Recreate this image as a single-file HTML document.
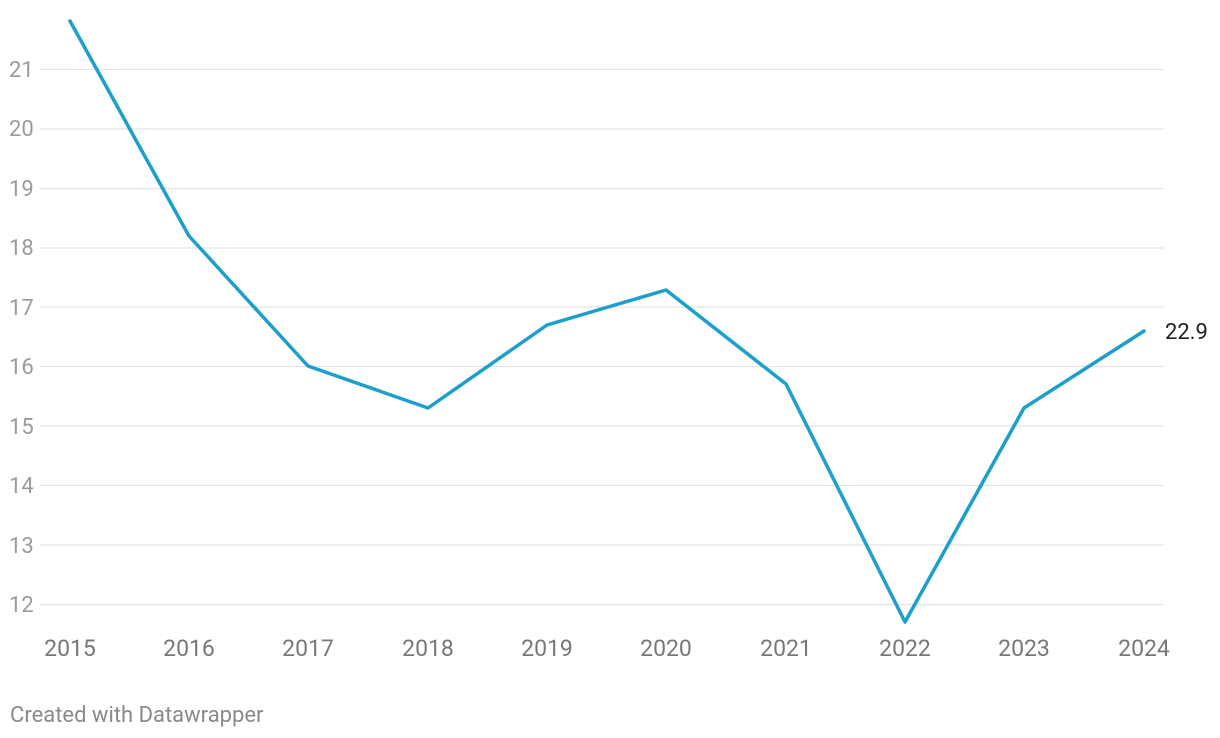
<!DOCTYPE html>
<html><head><meta charset="utf-8"><style>
html,body{margin:0;padding:0;background:#fff;}
svg{display:block;font-family:"Roboto","Liberation Sans",sans-serif;}
</style></head><body>
<svg width="1220" height="738" viewBox="0 0 1220 738">
<g stroke="#e3e3e3" stroke-width="1.3">
<line x1="40" x2="1164" y1="69.5" y2="69.5"/>
<line x1="40" x2="1164" y1="129" y2="129"/>
<line x1="40" x2="1164" y1="188.5" y2="188.5"/>
<line x1="40" x2="1164" y1="248" y2="248"/>
<line x1="40" x2="1164" y1="307" y2="307"/>
<line x1="40" x2="1164" y1="366.5" y2="366.5"/>
<line x1="40" x2="1164" y1="426" y2="426"/>
<line x1="40" x2="1164" y1="485.5" y2="485.5"/>
<line x1="40" x2="1164" y1="545" y2="545"/>
<line x1="40" x2="1164" y1="604.5" y2="604.5"/>
</g>
<g fill="#9a9a9a" font-size="22">
<text x="9" y="77">21</text>
<text x="9" y="136">20</text>
<text x="9" y="196">19</text>
<text x="9" y="255">18</text>
<text x="9" y="315">17</text>
<text x="9" y="374">16</text>
<text x="9" y="434">15</text>
<text x="9" y="493">14</text>
<text x="9" y="553">13</text>
<text x="9" y="612">12</text>
</g>
<g fill="#777" font-size="23" text-anchor="middle">
<text x="70" y="656">2015</text>
<text x="189" y="656">2016</text>
<text x="308" y="656">2017</text>
<text x="428" y="656">2018</text>
<text x="547" y="656">2019</text>
<text x="666" y="656">2020</text>
<text x="786" y="656">2021</text>
<text x="905" y="656">2022</text>
<text x="1024" y="656">2023</text>
<text x="1144" y="656">2024</text>
</g>
<polyline fill="none" stroke="#1d9fcb" stroke-width="3.5" stroke-linejoin="round" stroke-linecap="round"
points="70,21 189,236 308,366 428,408 547,325 666,290 786,384 905,622 1024,408 1144,331"/>
<text x="1165" y="339" fill="#222" font-size="22">22.9</text>
<text x="10" y="722" fill="#8a8a8a" font-size="22">Created with Datawrapper</text>
</svg>
</body></html>
